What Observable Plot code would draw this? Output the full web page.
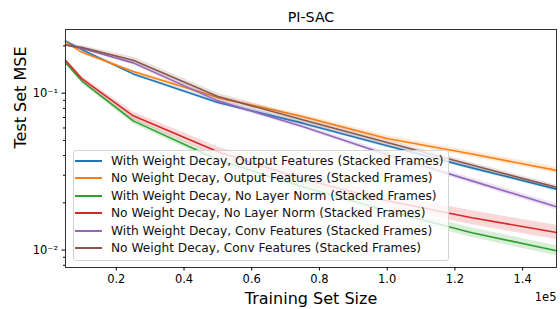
<!DOCTYPE html>
<html>
<head>
<meta charset="utf-8">
<script src="https://cdn.jsdelivr.net/npm/d3@7"></script>
<script src="https://cdn.jsdelivr.net/npm/@observablehq/plot@0.6"></script>
<style>
  html, body { margin: 0; padding: 0; background: white; }
  #wrap { position: relative; width: 560px; height: 309px; font-family: "DejaVu Sans", sans-serif; }
  #legend { position: absolute; left: 72.5px; top: 150px; width: 376px; height: 111px; box-sizing: border-box;
            border: 1px solid #d4d4d4; border-radius: 3px; background: rgba(255,255,255,0.8); padding-top: 1px; }
  .row { height: 17.5px; display: flex; align-items: center; font-size: 12.2px; color: #111; white-space: nowrap; }
  .sw { width: 27px; height: 1.6px; margin-left: 1.5px; margin-right: 9px; }
</style>
</head>
<body>
<div id="wrap"></div>
<script>
// ---- data ----
const xs = [5000, 10000, 25000, 50000, 75000, 100000, 125000, 150000];
const seriesNames = [
  "With Weight Decay, Output Features (Stacked Frames)",
  "No Weight Decay, Output Features (Stacked Frames)",
  "With Weight Decay, No Layer Norm (Stacked Frames)",
  "No Weight Decay, No Layer Norm (Stacked Frames)",
  "With Weight Decay, Conv Features (Stacked Frames)",
  "No Weight Decay, Conv Features (Stacked Frames)"
];
const colors = ["#1f77b4", "#ff7f0e", "#2ca02c", "#d62728", "#9467bd", "#8c564b"];
const wdOutput   = [0.2154, 0.1887, 0.1327, 0.0871, 0.0644, 0.0462, 0.0334, 0.02446];
const nwdOutput  = [0.2122, 0.1814, 0.1373, 0.0937, 0.0710, 0.0514, 0.0409, 0.0322];
const wdNoLN     = [0.1566, 0.1186, 0.0666, 0.0376, 0.0253, 0.0178, 0.01289, 0.0099];
const nwdNoLN    = [0.1623, 0.1228, 0.0717, 0.0423, 0.0284, 0.0206, 0.01606, 0.01295];
const wdConv     = [0.2030, 0.1929, 0.1560, 0.0893, 0.0613, 0.0405, 0.0276, 0.01887];
const nwdConv    = [0.2030, 0.1952, 0.1623, 0.0951, 0.0676, 0.0485, 0.0348, 0.0251];
// half-width of the shaded band, in log10 units
const wdOutputSpread  = [0.006, 0.008, 0.010, 0.012, 0.012, 0.012, 0.013, 0.013];
const nwdOutputSpread = [0.006, 0.008, 0.010, 0.012, 0.015, 0.017, 0.018, 0.020];
const wdNoLNSpread    = [0.008, 0.015, 0.020, 0.022, 0.025, 0.028, 0.030, 0.032];
const nwdNoLNSpread   = [0.008, 0.015, 0.025, 0.030, 0.035, 0.040, 0.045, 0.045];
const wdConvSpread    = [0.006, 0.010, 0.013, 0.015, 0.015, 0.016, 0.018, 0.020];
const nwdConvSpread   = [0.006, 0.012, 0.020, 0.022, 0.020, 0.018, 0.016, 0.015];
const xTicks = [20000, 40000, 60000, 80000, 100000, 120000, 140000];
const yMajorTicks = [0.01, 0.1];
const yMinorTicks = [0.008, 0.009, 0.02, 0.03, 0.04, 0.05, 0.06, 0.07, 0.08, 0.09, 0.2];
const yTickLabels = {"0.01": "10\u207B\u00B2", "0.1": "10\u207B\u00B9"};

// ---- build table ----
const allVals = [wdOutput, nwdOutput, wdNoLN, nwdNoLN, wdConv, nwdConv];
const allSpreads = [wdOutputSpread, nwdOutputSpread, wdNoLNSpread, nwdNoLNSpread, wdConvSpread, nwdConvSpread];
const marks = [];
allVals.forEach((vals, i) => {
  const rows = xs.map((x, j) => ({
    x, y: vals[j],
    lo: vals[j] / Math.pow(10, allSpreads[i][j]),
    hi: vals[j] * Math.pow(10, allSpreads[i][j])
  }));
  marks.push(Plot.areaY(rows, {x: "x", y1: "lo", y2: "hi", fill: colors[i], fillOpacity: 0.18}));
  marks.push(Plot.lineY(rows, {x: "x", y: "y", stroke: colors[i], strokeWidth: 1.6}));
});

const chart = Plot.plot({
  width: 560, height: 309,
  marginLeft: 65, marginRight: 4, marginTop: 29, marginBottom: 42,
  style: {fontFamily: "DejaVu Sans", fontSize: "11.5px", color: "black", background: "white", overflow: "visible"},
  x: {type: "linear", domain: [5000, 150000]},
  y: {type: "log", domain: [0.00774, 0.2546]},
  marks: [
    ...marks,
    Plot.frame({stroke: "#333", strokeWidth: 1}),
    Plot.axisX({ticks: xTicks, tickFormat: d => (d / 1e5).toFixed(1), tickSize: 3.5, tickPadding: 4, label: null}),
    Plot.axisY({ticks: yMajorTicks, tickFormat: d => yTickLabels[String(d)], tickSize: 3.5, tickPadding: 4, label: null}),
    Plot.axisY({ticks: yMinorTicks, tickFormat: () => "", tickSize: 2, label: null}),
    Plot.text(["PI-SAC"], {frameAnchor: "top", dy: -12, lineAnchor: "middle", fontSize: 14.2}),
    Plot.text(["Training Set Size"], {frameAnchor: "bottom", dy: 31, lineAnchor: "middle", fontSize: 16}),
    Plot.text(["Test Set MSE"], {frameAnchor: "left", dx: -45, rotate: -90, lineAnchor: "middle", fontSize: 16}),
    Plot.text(["1e5"], {frameAnchor: "bottom-right", dy: 30, textAnchor: "end", lineAnchor: "middle", fontSize: 11.5})
  ]
});

const wrap = document.getElementById("wrap");
wrap.appendChild(chart);
const legend = document.createElement("div");
legend.id = "legend";
seriesNames.forEach((name, i) => {
  const row = document.createElement("div");
  row.className = "row";
  const sw = document.createElement("span");
  sw.className = "sw";
  sw.style.background = colors[i];
  const t = document.createElement("span");
  t.textContent = name;
  row.appendChild(sw); row.appendChild(t);
  legend.appendChild(row);
});
wrap.appendChild(legend);
</script>
</body>
</html>
